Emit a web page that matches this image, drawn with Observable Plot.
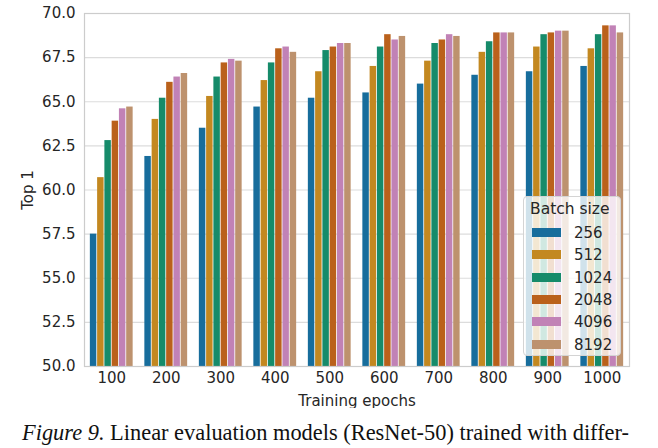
<!DOCTYPE html>
<html>
<head>
<meta charset="utf-8">
<script src="https://cdn.jsdelivr.net/npm/d3@7"></script>
<script src="https://cdn.jsdelivr.net/npm/@observablehq/plot@0.6"></script>
<style>
  html, body { margin: 0; padding: 0; background: #fff; }
  #wrap { position: relative; width: 658px; height: 448px; overflow: hidden; }
  #legend {
    position: absolute; left: 523px; top: 196px; width: 98px; height: 160px;
    background: rgba(255,255,255,0.8); border: 1px solid #d4d4d4; border-radius: 4px;
    font-family: "DejaVu Sans", sans-serif; font-size: 15px; color: #262626; box-sizing: border-box;
  }
  #legend .title { position: absolute; left: 6px; top: 3px; line-height: 18px; font-size: 15.5px; }
  #legend .item { position: absolute; left: 8px; height: 18px; line-height: 18px; }
  #legend .sw { display: inline-block; width: 29px; height: 9px; vertical-align: middle; margin-right: 13px; position: relative; top: -1px; }
  #caption {
    position: absolute; left: 22px; top: 422px; white-space: nowrap;
    font-family: "Liberation Serif", "Times New Roman", serif; font-size: 22.4px; line-height: 22px; color: #111;
  }
</style>
</head>
<body>
<div id="wrap">
  <div id="chart"></div>
  <div id="legend"></div>
  <div id="caption"><i>Figure 9.</i> Linear evaluation models (ResNet-50) trained with differ-</div>
</div>
<script>
const epochs = [100, 200, 300, 400, 500, 600, 700, 800, 900, 1000];
const batchSizes = [256, 512, 1024, 2048, 4096, 8192];
const colors = ["#176d9c", "#c38820", "#168b6a", "#ba611b", "#c182b6", "#bd926e"];
const yTicks = [50, 52.5, 55, 57.5, 60, 62.5, 65, 67.5, 70];

const top1_256  = [57.5, 61.9, 63.5, 64.7, 65.2, 65.5, 66.0, 66.5, 66.7, 67.0];
const top1_512  = [60.7, 64.0, 65.3, 66.2, 66.7, 67.0, 67.3, 67.8, 68.1, 68.0];
const top1_1024 = [62.8, 65.2, 66.4, 67.2, 67.9, 68.1, 68.3, 68.4, 68.8, 68.8];
const top1_2048 = [63.9, 66.1, 67.2, 68.0, 68.1, 68.8, 68.5, 68.9, 68.9, 69.3];
const top1_4096 = [64.6, 66.4, 67.4, 68.1, 68.3, 68.5, 68.8, 68.9, 69.0, 69.3];
const top1_8192 = [64.7, 66.6, 67.3, 67.8, 68.3, 68.7, 68.7, 68.9, 69.0, 68.9];
const series = [top1_256, top1_512, top1_1024, top1_2048, top1_4096, top1_8192];

const rows = [];
epochs.forEach((e, i) => {
  batchSizes.forEach((b, k) => {
    rows.push({i, k, epoch: e, batch: String(b), value: series[k][i]});
  });
});

const groupWidth = 0.8;
const nB = batchSizes.length;

const chart = Plot.plot({
  width: 658,
  height: 408,
  marginLeft: 84,
  marginRight: 29,
  marginTop: 13,
  marginBottom: 42,
  style: { fontFamily: "DejaVu Sans, sans-serif", fontSize: "15px", color: "#262626", background: "white" },
  x: { type: "linear", domain: [-0.5, epochs.length - 0.5] },
  y: { domain: [50, 70] },
  color: { type: "ordinal", domain: batchSizes.map(String), range: colors },
  marks: [
    Plot.gridY(yTicks, { stroke: "#dcdcdc", strokeOpacity: 1, strokeWidth: 1.2 }),
    Plot.rect(rows, {
      x1: d => d.i - groupWidth / 2 + d.k * groupWidth / nB,
      x2: d => d.i - groupWidth / 2 + (d.k + 1) * groupWidth / nB,
      y1: 50,
      y2: "value",
      fill: "batch",
      insetLeft: 0.4,
      insetRight: 0.4
    }),
    Plot.frame({ stroke: "#cccccc", strokeWidth: 1.2 }),
    Plot.axisY(yTicks, {
      tickSize: 0, tickPadding: 9, tickFormat: d => d.toFixed(1),
      label: "Top 1", labelAnchor: "center", labelOffset: 62, labelArrow: "none"
    }),
    Plot.axisX(epochs.map((_, i) => i), {
      tickSize: 0, tickPadding: 6, tickFormat: i => String(epochs[i]),
      label: "Training epochs", labelAnchor: "center", labelArrow: "none"
    })
  ]
});
document.getElementById("chart").appendChild(chart);

// legend
const legend = document.getElementById("legend");
const t = document.createElement("div");
t.className = "title"; t.textContent = "Batch size";
legend.appendChild(t);
batchSizes.forEach((b, k) => {
  const it = document.createElement("div");
  it.className = "item";
  it.style.top = (27 + k * 22.3) + "px";
  const sw = document.createElement("span");
  sw.className = "sw"; sw.style.background = colors[k];
  it.appendChild(sw);
  it.appendChild(document.createTextNode(String(b)));
  legend.appendChild(it);
});
</script>
</body>
</html>
